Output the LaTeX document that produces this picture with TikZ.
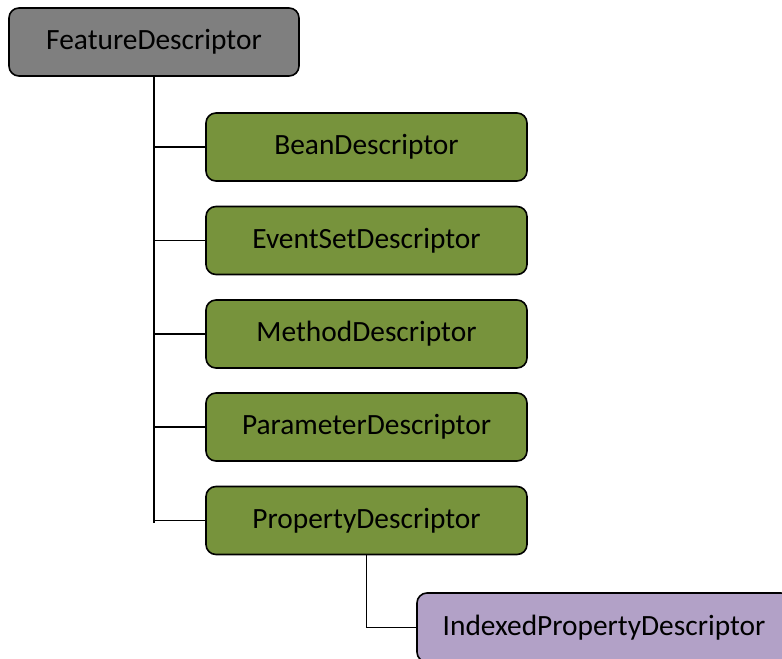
\documentclass[tikz,border=0pt]{standalone}
\usepackage{fontspec}
\setmainfont{Carlito}
\definecolor{boxgray}{HTML}{7F7F7F}
\definecolor{boxgreen}{HTML}{77933C}
\definecolor{boxpurple}{HTML}{B2A1C7}
\begin{document}
\begin{tikzpicture}[x=1bp,y=-1bp,
  box/.style={draw=black, line width=1.6bp, rounded corners=10bp, inner sep=0pt,
    minimum height=68bp, font=\fontsize{29.5}{35}\selectfont, text=black},
  conn/.style={draw=black, line width=1.6bp}]
\useasboundingbox (0,0) rectangle (782,659);
\clip (0,0) rectangle (782,659);
\node[box, fill=boxgray, minimum width=290bp] (feat) at (154,42) {FeatureDescriptor};
\node[box, fill=boxgreen, minimum width=321bp] (bean) at (366.5,147) {BeanDescriptor};
\node[box, fill=boxgreen, minimum width=321bp] (event) at (366.5,240.5) {EventSetDescriptor};
\node[box, fill=boxgreen, minimum width=321bp] (meth) at (366.5,334) {MethodDescriptor};
\node[box, fill=boxgreen, minimum width=321bp] (param) at (366.5,427) {ParameterDescriptor};
\node[box, fill=boxgreen, minimum width=321bp] (prop) at (366.5,520.5) {PropertyDescriptor};
\node[box, fill=boxpurple, minimum width=374bp, minimum height=69bp] (idx) at (604,627.5) {IndexedPropertyDescriptor};
\coordinate (trunkend) at (154,523);
\draw[conn] (feat.south) -- (trunkend);
\foreach \n in {bean,event,meth,param,prop}
  \draw[conn] (\n.west -| feat.south) -- (\n.west);
\draw[conn] (prop.south) |- (idx.west);
\end{tikzpicture}
\end{document}
